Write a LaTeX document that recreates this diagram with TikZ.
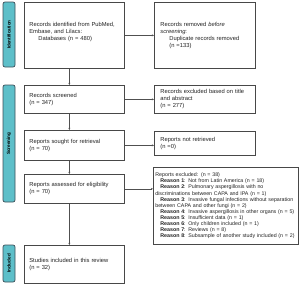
\documentclass[tikz,border=0pt]{standalone}
\usepackage{fontspec}
\setmainfont{Liberation Sans}
\usetikzlibrary{arrows.meta}
\definecolor{boxc}{HTML}{484848}
\definecolor{linec}{HTML}{505050}
\definecolor{textc}{HTML}{222222}
\definecolor{barfill}{HTML}{5DBFC9}
\definecolor{barline}{HTML}{3D4F58}
\begin{document}
\begin{tikzpicture}[x=1pt,y=-1pt,
  box/.style={draw=boxc, line width=0.7pt, anchor=north west, inner sep=0pt,
    align=left, text=textc, font=\fontsize{5.8}{7}\selectfont},
  smallbox/.style={box, font=\fontsize{5.3}{6.1}\selectfont},
  phase/.style={draw=barline, fill=barfill, rounded corners=2pt, line width=0.7pt,
    rotate=90, inner sep=0pt, minimum height=12pt, text=black,
    font=\bfseries\fontsize{4.6}{5}\selectfont},
  arr/.style={draw=linec, line width=0.55pt, -{Stealth[length=2.2pt,width=2pt]}}]
\useasboundingbox (0,0) rectangle (300,285);

% phase bars
\node[phase, minimum width=65pt] (pid) at (9,34.5) {Identification};
\node[phase, minimum width=117pt] (pscr) at (9,143.5) {Screening};
\node[phase, minimum width=37pt] (pinc) at (9,263.5) {Included};

% left column
\node[box, minimum width=100pt, minimum height=66pt, text width=90pt] (ident) at (24,2)
  {Records identified from PubMed,\\Embase, and Lilacs:\\\hspace*{9pt}Databases (n = 480)\\\mbox{}};
\node[box, minimum width=100pt, minimum height=28pt, text width=90pt] (scr) at (24,85)
  {Records screened\\(n = 347)};
\node[box, minimum width=100pt, minimum height=30pt, text width=90pt] (sought) at (24,130)
  {Reports sought for retrieval\\(n = 70)};
\node[box, minimum width=100pt, minimum height=29pt, text width=90pt] (assess) at (24,174)
  {Reports assessed for eligibility\\(n = 70)};
\node[box, minimum width=100pt, minimum height=38pt, text width=90pt] (incl) at (24,245)
  {Studies included in this review\\(n = 32)};

% right column
\node[box, minimum width=101pt, minimum height=66pt, text width=89pt] (removed) at (154,2)
  {Records removed \emph{before}\\\emph{screening}:\\\hspace*{9pt}Duplicate records removed\\\hspace*{9pt}(n =133)};
\node[box, minimum width=101pt, minimum height=28pt, text width=89pt] (excl) at (154,85)
  {Records excluded based on title\\and abstract\\(n = 277)};
\node[box, minimum width=101pt, minimum height=24pt, text width=89pt] (notret) at (154,131)
  {Reports not retrieved\\(n =0)};
\node[smallbox, minimum width=145pt, minimum height=77pt, text width=141pt] (rexcl) at (153,167)
  {Reports excluded: (n = 38)\\
   \hspace*{5pt}\textbf{Reason 1}: Not from Latin America (n = 18)\\
   \hspace*{5pt}\textbf{Reason 2}: Pulmonary aspergillosis with no\\
   discriminations between CAPA and IPA (n = 1)\\
   \hspace*{5pt}\textbf{Reason 3}: Invasive fungal infections without separation\\
   between CAPA and other fungi (n = 2)\\
   \hspace*{5pt}\textbf{Reason 4}: Invasive aspergillosis in other organs (n = 5)\\
   \hspace*{5pt}\textbf{Reason 5}: Insufficient data (n = 1)\\
   \hspace*{5pt}\textbf{Reason 6}: Only children included (n = 1)\\
   \hspace*{5pt}\textbf{Reason 7}: Reviews (n = 8)\\
   \hspace*{5pt}\textbf{Reason 8}: Subsample of another study included (n = 2)};

% vertical arrows
\draw[arr] ([xshift=-5pt]ident.south) -- ([xshift=-5pt]scr.north);
\draw[arr] ([xshift=-5pt]scr.south) -- ([xshift=-5pt]sought.north);
\draw[arr] ([xshift=-5pt]sought.south) -- ([xshift=-5pt]assess.north);
\draw[arr] ([xshift=-5pt]assess.south) -- ([xshift=-5pt]incl.north);

% horizontal arrows
\draw[arr] (ident.east) -- (ident.east -| removed.west);
\draw[arr] (scr.east) -- (scr.east -| excl.west);
\draw[arr] (sought.east) -- (sought.east -| notret.west);
\draw[arr] (assess.east) -- (assess.east -| rexcl.west);
\end{tikzpicture}
\end{document}
